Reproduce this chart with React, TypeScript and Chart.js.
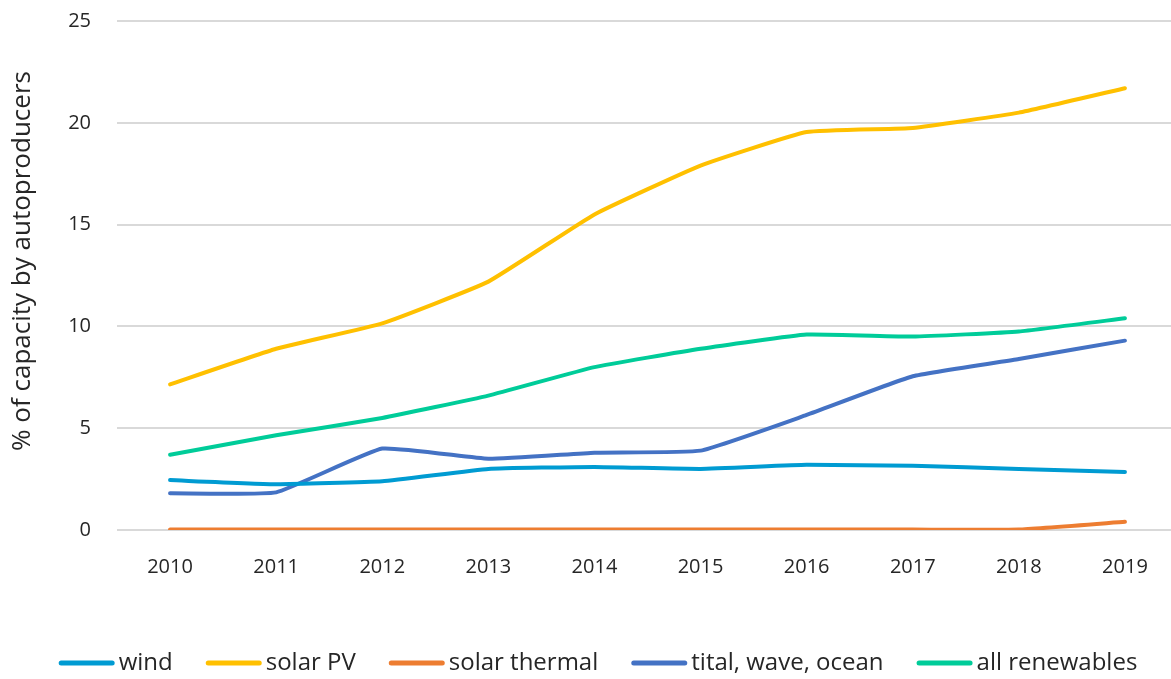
import React, { useEffect, useRef } from "react";
import { Chart, registerables } from "chart.js";

Chart.register(...registerables);

const years = ["2010", "2011", "2012", "2013", "2014", "2015", "2016", "2017", "2018", "2019"];
const wind = [2.45, 2.25, 2.4, 3.0, 3.1, 3.0, 3.2, 3.15, 3.0, 2.85];
const solarPV = [7.15, 8.9, 10.15, 12.2, 15.5, 17.9, 19.55, 19.75, 20.5, 21.7];
const solarThermal = [0.02, 0.02, 0.02, 0.02, 0.02, 0.02, 0.02, 0.02, 0.02, 0.4];
const tidal = [1.8, 1.85, 4.0, 3.5, 3.8, 3.9, 5.65, 7.55, 8.4, 9.3];
const allRenewables = [3.7, 4.65, 5.5, 6.6, 8.0, 8.9, 9.6, 9.5, 9.75, 10.4];
const seriesLabels = ["wind", "solar PV", "solar thermal", "tital, wave, ocean", "all renewables"];
const seriesColors = ["#009BD2", "#FFC000", "#ED7D31", "#4472C4", "#00CC99"];
const yTitle = "% of capacity by autoproducers";

const FONT = "'Open Sans', Lato, sans-serif";
const TEXT = "#262626";
const SHIFT = 17;

const customPlugin = {
  id: "customDecor",
  afterDraw(chart: any) {
    const ctx = chart.ctx;
    ctx.save();
    ctx.translate(23, 261 + SHIFT);
    ctx.rotate(-Math.PI / 2);
    ctx.font = `26px ${FONT}`;
    ctx.fillStyle = TEXT;
    ctx.textAlign = "center";
    ctx.textBaseline = "middle";
    ctx.fillText(yTitle, 0, 0);
    ctx.restore();

    ctx.save();
    ctx.font = `24px ${FONT}`;
    const lineLen = 56;
    const gapText = 4;
    const gapItem = 33;
    const ds = chart.data.datasets;
    let total = 0;
    const widths = ds.map((d: any) => ctx.measureText(d.label).width);
    widths.forEach((w: number, i: number) => {
      total += lineLen + gapText + w + (i > 0 ? gapItem : 0);
    });
    let x = 598 - total / 2;
    const y = 663 + SHIFT;
    ds.forEach((d: any, i: number) => {
      ctx.strokeStyle = d.borderColor;
      ctx.lineWidth = 5;
      ctx.lineCap = "round";
      ctx.beginPath();
      ctx.moveTo(x + 2.5, y);
      ctx.lineTo(x + lineLen - 2.5, y);
      ctx.stroke();
      ctx.fillStyle = TEXT;
      ctx.textAlign = "left";
      ctx.textBaseline = "middle";
      ctx.fillText(d.label, x + lineLen + gapText, y);
      x += lineLen + gapText + widths[i] + gapItem;
    });
    ctx.restore();
  },
};

export default function App() {
  const ref = useRef<HTMLCanvasElement>(null);
  useEffect(() => {
    if (!ref.current) return;
    const data = [wind, solarPV, solarThermal, tidal, allRenewables];
    const chart = new Chart(ref.current, {
      type: "line",
      data: {
        labels: years,
        datasets: data.map((vals, i) => ({
          label: seriesLabels[i],
          data: vals,
          borderColor: seriesColors[i],
          backgroundColor: seriesColors[i],
          borderWidth: 4,
          pointRadius: 0,
          tension: 0.12,
          borderCapStyle: "round" as const,
          borderJoinStyle: "round" as const,
          fill: false,
        })),
      },
      options: {
        animation: false,
        responsive: false,
        maintainAspectRatio: false,
        layout: { autoPadding: false, padding: { top: 20, right: 7, left: 0, bottom: 0 } },
        plugins: {
          legend: { display: false },
          tooltip: { enabled: false },
        },
        scales: {
          x: {
            offset: true,
            grid: { display: false },
            border: { display: false },
            ticks: {
              color: TEXT,
              font: { family: FONT, size: 20 },
              padding: 17,
              maxRotation: 0,
            },
            afterFit(scale: any) {
              scale.height = 149;
            },
          },
          y: {
            min: 0,
            max: 25,
            grid: { color: "#D9D9D9", lineWidth: 2, drawTicks: false },
            border: { display: false },
            ticks: {
              stepSize: 5,
              color: TEXT,
              font: { family: FONT, size: 20 },
              padding: 26,
            },
            afterFit(scale: any) {
              scale.width = 117;
            },
          },
        },
      },
      plugins: [customPlugin],
    });
    return () => chart.destroy();
  }, []);
  return (
    <div
      style={{
        position: "fixed",
        left: 0,
        top: 0,
        width: 1171,
        height: 679,
        overflow: "hidden",
        background: "#fff",
      }}
    >
      <canvas
        ref={ref}
        width={1185}
        height={679 + SHIFT}
        style={{ display: "block", marginTop: -SHIFT }}
      />
    </div>
  );
}
